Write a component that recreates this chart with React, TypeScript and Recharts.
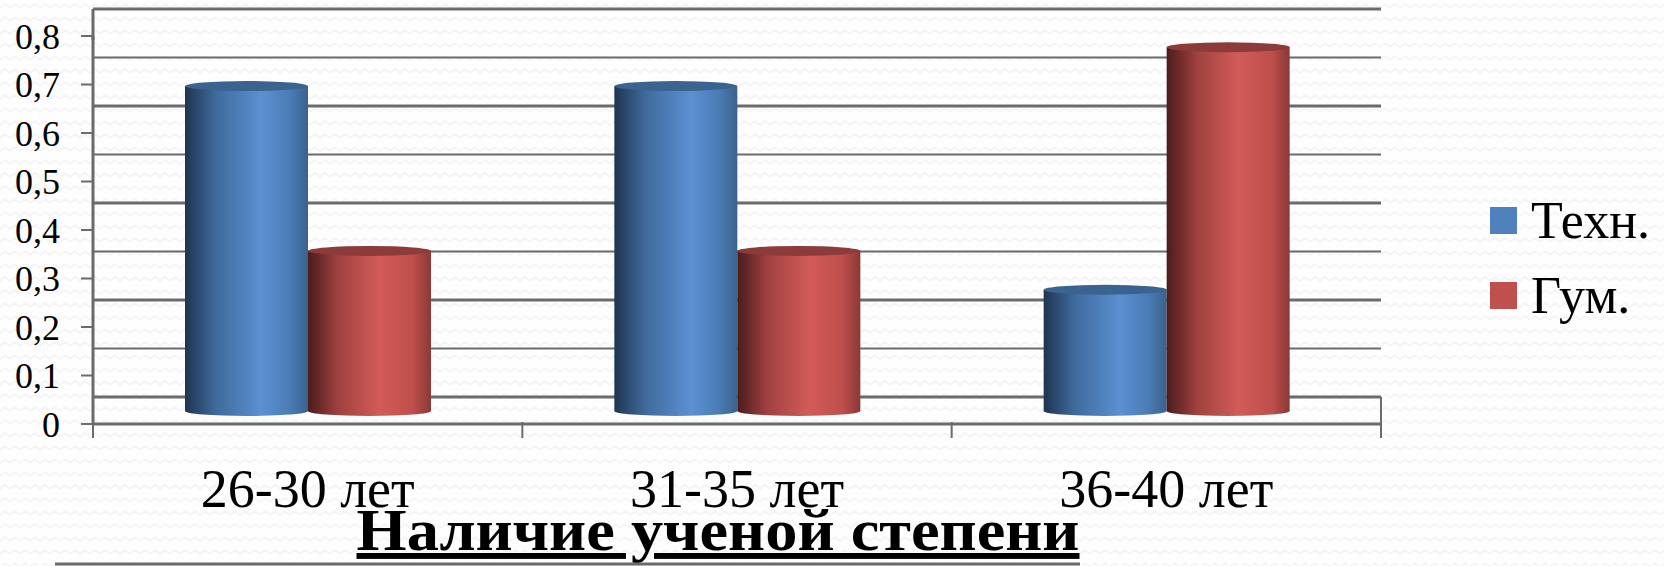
import { BarChart, Bar, XAxis, YAxis, CartesianGrid, Legend } from 'recharts';

const categories = ['26-30 лет', '31-35 лет', '36-40 лет'];
const tehn = [0.67, 0.67, 0.25];
const gum = [0.33, 0.33, 0.75];
const valueTicks = [0, 0.1, 0.2, 0.3, 0.4, 0.5, 0.6, 0.7, 0.8];
const seriesNames = { tehn: 'Техн.', gum: 'Гум.' };
const chartTitle = 'Наличие ученой степени';

const data = categories.map((name, i) => ({ name, tehn: tehn[i], gum: gum[i] }));

const FONT = '"Liberation Serif", serif';
const AXIS_GREY = '#6b6b6b';
// the 3D look: back wall sits higher than the axis, cylinders stand a bit above it
const WALL_SHIFT = 27;
const BAR_SHIFT = 13;
const ELLIPSE_RY = 5;

const wave = encodeURIComponent(
  '<svg xmlns="http://www.w3.org/2000/svg" width="20" height="13"><path d="M0 8 L5 4 L10 8 L15 4 L20 8" fill="none" stroke="#f5f5f5" stroke-width="2"/></svg>'
);

const Cylinder = (props: any) => {
  const { x, y, width, height, gradient, top } = props;
  const cy = y - BAR_SHIFT;
  const rx = width / 2;
  const cx = x + rx;
  return (
    <g>
      <path
        d={`M${x} ${cy} L${x} ${cy + height} A${rx} ${ELLIPSE_RY} 0 0 0 ${x + width} ${cy + height} L${x + width} ${cy} Z`}
        fill={`url(#${gradient})`}
      />
      <ellipse cx={cx} cy={cy} rx={rx} ry={ELLIPSE_RY} fill={top} />
    </g>
  );
};

const WallLine = (props: any) => (
  <line
    key={props.key}
    x1={props.x1}
    x2={props.x2}
    y1={props.y1 - WALL_SHIFT}
    y2={props.y2 - WALL_SHIFT}
    stroke={AXIS_GREY}
    strokeWidth={props.index % 2 ? 2 : 3}
  />
);

// tick marks sit on the band edges, the label stays on the band centre
const CategoryTick = (props: any) => {
  const { x, y, width, visibleTicksCount, index, payload } = props;
  const band = width / visibleTicksCount;
  const left = x - band / 2;
  const right = x + band / 2;
  return (
    <g>
      <line x1={left} x2={left} y1={y - 8} y2={y + 8} stroke={AXIS_GREY} strokeWidth={2} />
      {index === visibleTicksCount - 1 && (
        <line x1={right} x2={right} y1={y - 8} y2={y + 8} stroke={AXIS_GREY} strokeWidth={2} />
      )}
      <text x={x} y={y + 77} textAnchor="middle" fontFamily={FONT} fontSize={54} fill="#000">
        {payload.value}
      </text>
    </g>
  );
};

const LegendContent = (props: any) => (
  <div style={{ fontFamily: FONT, fontSize: 52, lineHeight: '75px', color: '#000' }}>
    {props.payload.map((item: any) => (
      <div key={item.value} style={{ display: 'flex', alignItems: 'center', height: 75 }}>
        <span style={{ width: 27, height: 27, background: item.color, marginRight: 14, display: 'inline-block' }} />
        {item.value}
      </div>
    ))}
  </div>
);

export default function App() {
  return (
    <div
      style={{
        position: 'absolute',
        left: 0,
        top: 0,
        width: 1664,
        height: 566,
        overflow: 'hidden',
        background: `#fefefe url("data:image/svg+xml,${wave}")`,
      }}
    >
      <BarChart
        width={1664}
        height={566}
        data={data}
        margin={{ top: 36, right: 283, bottom: 0, left: 0 }}
        barCategoryGap={92}
        barGap={0}
      >
        <defs>
          <linearGradient id="blueCyl" x1="0" y1="0" x2="1" y2="0">
            <stop offset="0%" stopColor="#1f3450" />
            <stop offset="25%" stopColor="#3f6a9c" />
            <stop offset="62%" stopColor="#5b90d2" />
            <stop offset="85%" stopColor="#4a7cb6" />
            <stop offset="100%" stopColor="#3b628d" />
          </linearGradient>
          <linearGradient id="redCyl" x1="0" y1="0" x2="1" y2="0">
            <stop offset="0%" stopColor="#4c1b1c" />
            <stop offset="25%" stopColor="#a04240" />
            <stop offset="58%" stopColor="#d25b58" />
            <stop offset="85%" stopColor="#bf4f4c" />
            <stop offset="100%" stopColor="#8a3937" />
          </linearGradient>
        </defs>
        <CartesianGrid vertical={false} horizontal={WallLine} />
        <line x1={93} x2={93} y1={9} y2={40} stroke={AXIS_GREY} strokeWidth={3} />
        <line x1={1381} x2={1381} y1={397} y2={425} stroke={AXIS_GREY} strokeWidth={2} />
        <XAxis
          dataKey="name"
          height={142}
          axisLine={{ stroke: AXIS_GREY, strokeWidth: 3 }}
          tickLine={false}
          interval={0}
          tick={<CategoryTick />}
          tickMargin={0}
        />
        <YAxis
          width={93}
          domain={[0, 0.8]}
          ticks={valueTicks}
          interval={0}
          tickSize={12}
          tickMargin={21}
          tickFormatter={(v: number) => String(v).replace('.', ',')}
          tick={{ fontFamily: FONT, fontSize: 36, fill: '#000' }}
          axisLine={{ stroke: AXIS_GREY, strokeWidth: 3 }}
          tickLine={{ stroke: AXIS_GREY, strokeWidth: 2 }}
        />
        <Bar
          dataKey="tehn"
          name={seriesNames.tehn}
          fill="#4f81bd"
          isAnimationActive={false}
          shape={<Cylinder gradient="blueCyl" top="#3b6390" />}
        />
        <Bar
          dataKey="gum"
          name={seriesNames.gum}
          fill="#c0504d"
          isAnimationActive={false}
          shape={<Cylinder gradient="redCyl" top="#8c3a3a" />}
        />
        <Legend
          layout="vertical"
          align="center"
          verticalAlign="middle"
          itemSorter={null}
          content={<LegendContent />}
          wrapperStyle={{ left: 1490, top: 183, width: 174 }}
        />
        <text
          x={718}
          y={550}
          textAnchor="middle"
          fontFamily={FONT}
          fontSize={59}
          fontWeight="bold"
          textDecoration="underline"
          textLength={723}
          lengthAdjust="spacingAndGlyphs"
          fill="#000"
        >
          {chartTitle}
        </text>
        <line x1={55} x2={1080} y1={564} y2={564} stroke={AXIS_GREY} strokeWidth={3} />
      </BarChart>
    </div>
  );
}
